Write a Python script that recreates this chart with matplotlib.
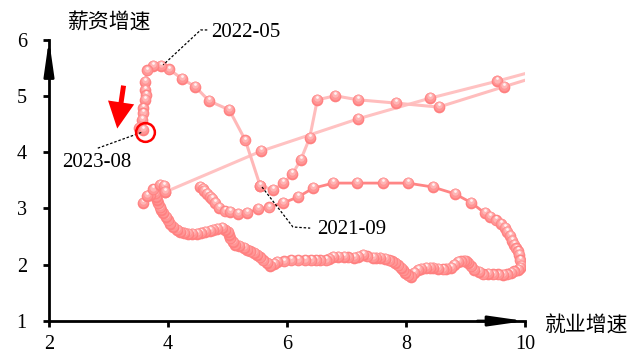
import matplotlib.pyplot as plt
from matplotlib import transforms

plt.rcParams['font.family'] = ['Liberation Serif', 'Noto Sans CJK SC']

# older history: loop in the lower part of the chart
loop_x = [4.54, 4.58, 4.61, 4.66, 4.70, 4.74, 4.79, 4.86, 4.96, 5.05, 5.18, 5.33, 5.52, 5.69,
          5.94, 6.18, 6.44, 6.78, 7.17, 7.61, 8.03, 8.45, 8.82, 9.10, 9.32, 9.42, 9.51, 9.59,
          9.66, 9.70, 9.74, 9.78, 9.81, 9.85, 9.88, 9.90, 9.91, 9.93, 9.91, 9.88, 9.82, 9.76,
          9.70, 9.63, 9.55, 9.46, 9.38, 9.29, 9.22, 9.14, 9.10, 9.05, 9.01, 8.97, 8.92, 8.87,
          8.81, 8.75, 8.68, 8.62, 8.54, 8.46, 8.40, 8.33, 8.26, 8.20, 8.14, 8.08, 8.03, 7.99,
          7.95, 7.91, 7.86, 7.82, 7.76, 7.71, 7.64, 7.57, 7.50, 7.44, 7.35, 7.27, 7.20, 7.12,
          7.03, 6.95, 6.86, 6.78, 6.71, 6.65, 6.56, 6.48, 6.40, 6.31, 6.18, 6.06, 5.95, 5.84,
          5.78, 5.72, 5.66, 5.60, 5.55, 5.50, 5.44, 5.38, 5.32, 5.27, 5.20, 5.13, 5.09, 5.05,
          5.02, 5.00, 4.96, 4.91, 4.83, 4.76, 4.70, 4.63, 4.56, 4.49, 4.41, 4.34, 4.27, 4.21,
          4.15, 4.09, 4.04, 4.00, 3.96, 3.92, 3.89, 3.87, 3.84, 3.82, 3.80, 3.78, 3.70, 3.58,
          3.65, 3.75, 3.87, 3.94, 3.95]
loop_y = [3.38, 3.35, 3.31, 3.26, 3.21, 3.17, 3.10, 3.01, 2.95, 2.94, 2.90, 2.92, 2.99, 3.02,
          3.10, 3.20, 3.36, 3.45, 3.45, 3.45, 3.45, 3.38, 3.26, 3.10, 2.92, 2.85, 2.79, 2.72,
          2.65, 2.58, 2.51, 2.43, 2.35, 2.29, 2.24, 2.17, 2.08, 1.98, 1.94, 1.91, 1.88, 1.85,
          1.83, 1.82, 1.83, 1.83, 1.84, 1.83, 1.87, 1.91, 1.97, 2.03, 2.06, 2.07, 2.06, 2.05,
          2.00, 1.94, 1.93, 1.92, 1.93, 1.94, 1.95, 1.94, 1.93, 1.91, 1.85, 1.78, 1.81, 1.85,
          1.90, 1.94, 1.99, 2.03, 2.06, 2.08, 2.10, 2.12, 2.12, 2.12, 2.15, 2.17, 2.14, 2.12,
          2.13, 2.14, 2.14, 2.14, 2.11, 2.08, 2.08, 2.08, 2.08, 2.08, 2.08, 2.08, 2.06, 2.05,
          2.02, 1.98, 2.03, 2.08, 2.13, 2.17, 2.21, 2.24, 2.27, 2.30, 2.33, 2.35, 2.41, 2.47,
          2.53, 2.58, 2.62, 2.65, 2.64, 2.62, 2.60, 2.58, 2.56, 2.55, 2.55, 2.55, 2.56, 2.58,
          2.62, 2.67, 2.73, 2.79, 2.85, 2.92, 2.97, 3.02, 3.09, 3.15, 3.21, 3.27, 3.24, 3.10,
          3.22, 3.34, 3.42, 3.40, 3.29]

# jump out of the chart and back
out_x = [3.95, 5.57, 7.19, 8.41, 9.53, 11.0]
out_y = [3.29, 4.02, 4.59, 4.96, 5.26, 5.68]
back_x = [11.0, 9.64, 8.55, 7.84, 7.19, 6.81, 6.51, 6.38, 6.23, 6.09, 5.94, 5.77, 5.55]
back_y = [5.60, 5.16, 4.80, 4.87, 4.93, 5.00, 4.93, 4.25, 3.86, 3.61, 3.45, 3.33, 3.40]

# 2021-09 -> 2022-05 -> 2023-08
recent_x = [5.55, 5.30, 5.03, 4.69, 4.46, 4.24, 4.02, 3.88, 3.75, 3.65, 3.62, 3.62, 3.63,
            3.62, 3.58, 3.58, 3.57, 3.52, 3.58]
recent_y = [3.40, 4.21, 4.75, 4.91, 5.16, 5.30, 5.47, 5.53, 5.53, 5.45, 5.25, 5.10, 5.01,
            4.93, 4.78, 4.69, 4.57, 4.43, 4.39]

fig = plt.figure(figsize=(6.43, 3.57), dpi=100)
ax = fig.add_axes([0.0762, 0.1008, 0.7403, 0.7885])
ax.set_xlim(2, 10)
ax.set_ylim(1, 6)

ax.plot(loop_x, loop_y, color='#ff8585', lw=2, zorder=1)
ax.plot(out_x, out_y, color='#ffc2c2', lw=2.2, zorder=1)
ax.plot(back_x, back_y, color='#ffbdbd', lw=2.2, zorder=1)
ax.plot(recent_x, recent_y, color='#ffb8b8', lw=2.2, zorder=1)

# shaded "sphere" markers
layers = [(8.4, '#ff8080', 0.0), (7.0, '#ff9696', 0.5), (4.6, '#ffb5b5', 1.2), (2.0, '#fff2f2', 2.0)]
all_x = loop_x + out_x + back_x + recent_x
all_y = loop_y + out_y + back_y + recent_y
z = 2
for x, y in zip(all_x, all_y):
    for ms, c, dy in layers:
        tr = transforms.offset_copy(ax.transData, fig=fig, x=0, y=dy, units='points')
        ax.plot(x, y, 'o', ms=ms, color=c, mec='none', transform=tr, zorder=z)
        z += 0.001

# annotations
ax.plot([4.66, 4.55, 3.92], [6.17, 6.17, 5.55], ls=(0, (2, 1.5)), color='k', lw=0.9, clip_on=False, zorder=5)
ax.text(4.72, 6.13, '2022-05', fontsize=15, ha='left', va='center')
ax.plot([5.58, 6.10, 6.39], [3.38, 2.67, 2.65], ls=(0, (2, 1.5)), color='k', lw=0.9, zorder=5)
ax.text(6.50, 2.62, '2021-09', fontsize=15, ha='left', va='center')
ax.plot([2.82, 3.58], [4.07, 4.36], ls=(0, (2, 1.5)), color='k', lw=0.9, zorder=5)
ax.text(2.22, 3.81, '2023-08', fontsize=15, ha='left', va='center')
ax.plot(3.61, 4.36, 'o', ms=13.5, mfc='none', mec='red', mew=1.8, zorder=6)
ax.annotate('', xy=(3.14, 4.37), xytext=(3.26, 5.23),
            arrowprops=dict(arrowstyle='simple,head_width=0.95,head_length=0.95,tail_width=0.18',
                            mutation_scale=20, color='red', lw=0), zorder=6)

# axes with arrows
for s in ['top', 'right']:
    ax.spines[s].set_visible(False)
ax.spines['left'].set_linewidth(2)
ax.spines['bottom'].set_linewidth(2)
ax.annotate('', xy=(1.0, 0), xytext=(0.9, 0), xycoords='axes fraction',
            arrowprops=dict(arrowstyle='-|>,head_length=1.4,head_width=0.2', lw=2, color='k',
                            shrinkA=0, shrinkB=0, mutation_scale=15))
ax.annotate('', xy=(0, 1.0), xytext=(0, 0.9), xycoords='axes fraction',
            arrowprops=dict(arrowstyle='-|>,head_length=1.4,head_width=0.2', lw=2, color='k',
                            shrinkA=0, shrinkB=0, mutation_scale=15))

ax.set_xticks([2, 4, 6, 8, 10])
ax.set_yticks([1, 2, 3, 4, 5, 6])
ax.tick_params(axis='both', direction='out', length=4, width=2, labelsize=14.5)
ax.tick_params(axis='x', pad=6)
ax.tick_params(axis='y', pad=12)

fig.text(0.171, 0.938, '薪资增速', fontsize=15, ha='center', va='center', family='Noto Sans CJK SC')
fig.text(0.913, 0.090, '就业增速', fontsize=15, ha='center', va='center', family='Noto Sans CJK SC')

fig.savefig('out.png', dpi=100)
